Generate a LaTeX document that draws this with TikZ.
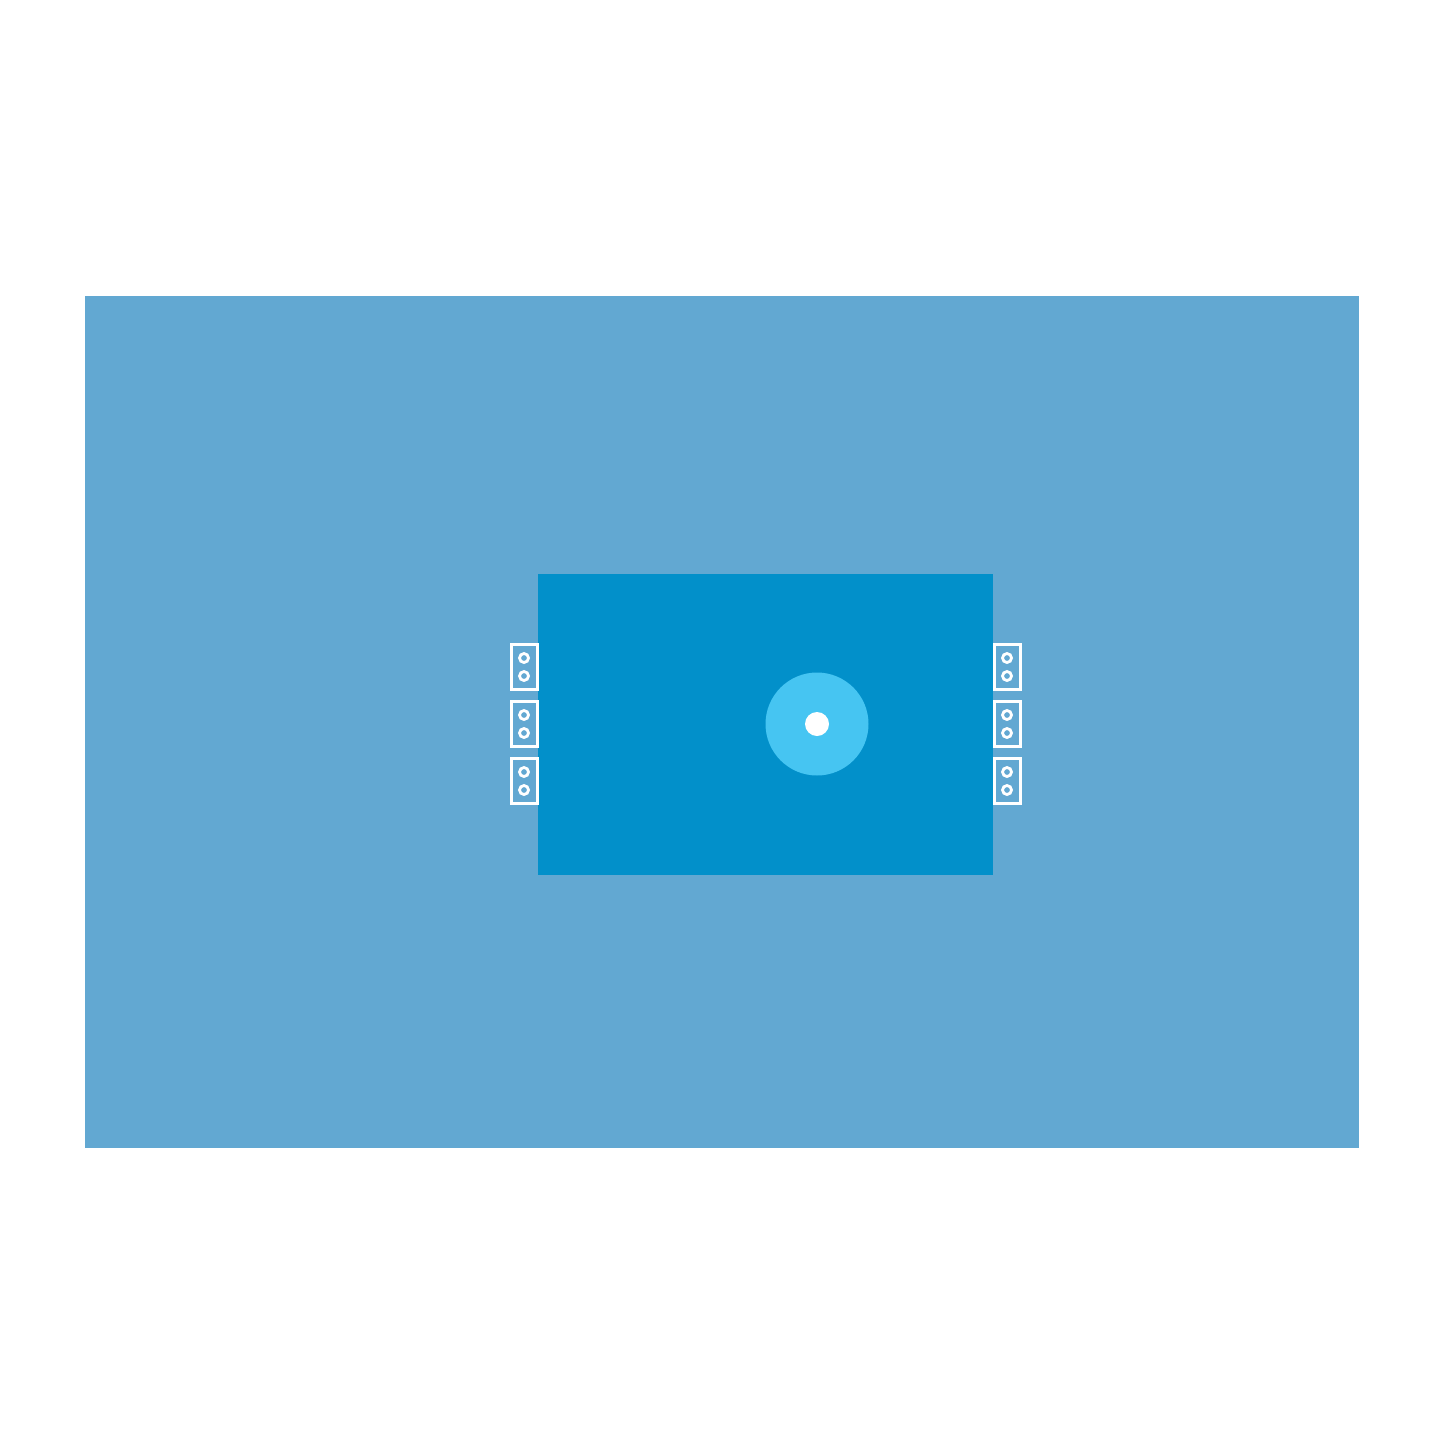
\documentclass[tikz,border=0pt]{standalone}
\definecolor{sheet}{HTML}{62A8D2}
\definecolor{panel}{HTML}{0290CA}
\definecolor{ring}{HTML}{46C5F2}
\begin{document}
\begin{tikzpicture}[x=1pt,y=-1pt,
  clipbox/.style={draw=white,line width=3pt,fill=sheet,minimum width=26pt,minimum height=45pt,inner sep=0pt,outer sep=0pt},
  hole/.style={draw=white,line width=2.8pt,fill=sheet,circle,minimum size=9pt,inner sep=0pt}]
\useasboundingbox (0,0) rectangle (1445,1445);
\fill[white] (0,0) rectangle (1445,1445);
\fill[sheet] (85,296) rectangle (1359,1148);
\fill[panel] (538,574) rectangle (993,875);
\node[circle,fill=ring,minimum size=103pt,inner sep=0pt] (fen) at (817,724) {};
\node[circle,fill=white,minimum size=24pt,inner sep=0pt] (dot) at (817,724) {};
\foreach \n/\cx in {L/524,R/1007}{
  \foreach \i/\cy in {1/667,2/724,3/781}{
    \node[clipbox] (c\n\i) at (\cx,\cy) {};
    \node[hole] (h\n\i a) at (\cx,\cy-9) {};
    \node[hole] (h\n\i b) at (\cx,\cy+9) {};
  }
}
\end{tikzpicture}
\end{document}
